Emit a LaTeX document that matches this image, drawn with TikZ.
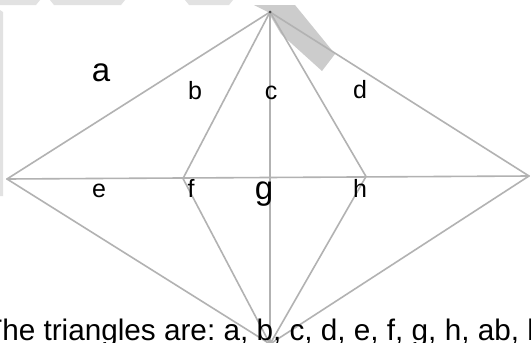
\documentclass[tikz,border=0pt]{standalone}
\usepackage{fontspec}
\setmainfont{Liberation Sans}
\frenchspacing
\definecolor{edgecol}{RGB}{178,178,178}
\definecolor{wmlight}{RGB}{226,226,226}
\definecolor{wmdark}{RGB}{204,204,204}
\tikzset{
  edge/.style={draw=edgecol, line width=1.6pt, line cap=round},
  biglbl/.style={anchor=base, inner sep=0pt, font=\fontsize{33}{33}\selectfont},
  smalllbl/.style={anchor=base, inner sep=0pt, font=\fontsize{25}{25}\selectfont},
  wm/.style={fill=wmlight, draw=none},
  wmd/.style={fill=wmdark, draw=none}
}
\begin{document}
\begin{tikzpicture}[x=1pt, y=-1pt]
\useasboundingbox (0,0) rectangle (531,343);
\fill[white] (0,0) rectangle (531,343);
% watermark fragments
\fill[wm] (0,0) -- (40,0) -- (36,5) -- (0,5) -- cycle;
\fill[wm] (50,0) -- (125,0) -- (121,5) -- (54,5) -- cycle;
\fill[wm] (185,0) -- (233,0) -- (229,5) -- (189,5) -- cycle;
\fill[wm] (0,10) -- (3,12) -- (3,196) -- (0,196) -- cycle;
\fill[wmd] (254,5) -- (295,5) -- (335,54) -- (322,71) -- (281,34) -- (268,12) -- cycle;
% points
\coordinate (T) at (270,12);
\coordinate (L) at (7,179);
\coordinate (R) at (529,176);
\coordinate (F) at (183,178.5);
\coordinate (H) at (366,176.5);
\coordinate (B) at (270,344);
% edges
\draw[edge] (L) -- (R);
\draw[edge] (T) -- (L);
\draw[edge] (T) -- (F);
\draw[edge] (T) -- (B);
\draw[edge] (T) -- (H);
\draw[edge] (T) -- (R);
\draw[edge] (L) -- (B);
\draw[edge] (F) -- (B);
\draw[edge] (H) -- (B);
\draw[edge] (R) -- (B);
\fill[black!70] (T) circle (1.5pt);
% labels
\node[biglbl] (la) at (101,81) {a};
\node[smalllbl] (lb) at (195,99) {b};
\node[smalllbl] (lc) at (271,99) {c};
\node[smalllbl] (ld) at (360,98) {d};
\node[smalllbl] (le) at (99,197) {e};
\node[smalllbl] (lf) at (191,197) {f};
\node[biglbl] (lg) at (264,199) {g};
\node[smalllbl] (lh) at (360,197) {h};
\node[anchor=base west, inner sep=0pt, font=\fontsize{29.7}{30}\selectfont] (caption) at (-16,340) {The triangles are: a, b, c, d, e, f, g, h, ab, b};
\end{tikzpicture}
\end{document}
